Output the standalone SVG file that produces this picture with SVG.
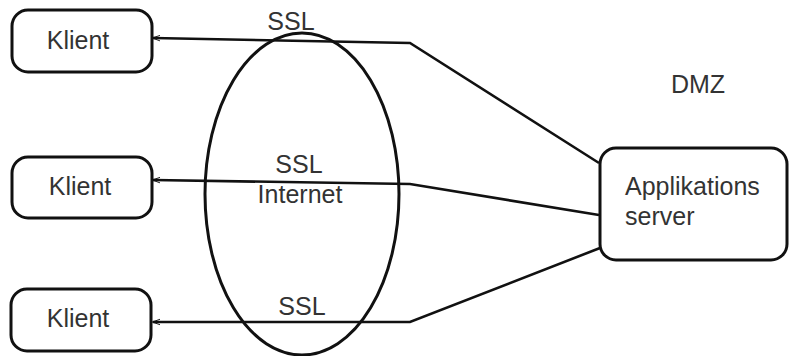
<svg xmlns="http://www.w3.org/2000/svg" width="789" height="356" viewBox="0 0 789 356">
  <style>
    .box { fill: #fff; stroke: #111; stroke-width: 3; }
    .lbl { font-family: "Liberation Sans", Arial, sans-serif; font-size: 25px; fill: #333; }
    .link { fill: none; stroke: #111; stroke-width: 2.6; stroke-linejoin: miter; }
  </style>
  <defs>
    <!-- small thin arrow tip at the client end -->
    <marker id="tip" viewBox="0 0 10 10" refX="1" refY="5" markerWidth="3" markerHeight="3" orient="auto" markerUnits="strokeWidth">
      <path d="M10,1.5 L0,5 L10,8.5" fill="none" stroke="#111" stroke-width="1.2"/>
    </marker>
  </defs>
  <rect width="789" height="356" fill="#fff"/>

  <!-- Internet zone -->
  <g id="internet">
    <ellipse cx="302" cy="194" rx="97" ry="161" fill="none" stroke="#111" stroke-width="3"/>
    <text class="lbl" x="300" y="203" text-anchor="middle">Internet</text>
  </g>

  <g id="dmz">
    <text class="lbl" x="698" y="93" text-anchor="middle">DMZ</text>
  </g>

  <!-- Connectors -->
  <g id="connectors">
    <polyline class="link" points="153,38 410,43 599,163" marker-start="url(#tip)"/>
    <polyline class="link" points="153,180 410,184 599,215" marker-start="url(#tip)"/>
    <polyline class="link" points="153,322 410,322 600,248" marker-start="url(#tip)"/>
    <text class="lbl" x="291" y="30" text-anchor="middle">SSL</text>
    <text class="lbl" x="299" y="173" text-anchor="middle">SSL</text>
    <text class="lbl" x="302" y="315" text-anchor="middle">SSL</text>
  </g>

  <g id="klient1">
    <rect class="box" x="12" y="10" width="140" height="62" rx="16"/>
    <text class="lbl" x="78" y="49" text-anchor="middle">Klient</text>
  </g>
  <g id="klient2">
    <rect class="box" x="12" y="157" width="140" height="61" rx="16"/>
    <text class="lbl" x="80" y="195" text-anchor="middle">Klient</text>
  </g>
  <g id="klient3">
    <rect class="box" x="11" y="289" width="140" height="62" rx="16"/>
    <text class="lbl" x="78" y="327" text-anchor="middle">Klient</text>
  </g>

  <g id="server">
    <rect class="box" x="600" y="148" width="187" height="112" rx="16"/>
    <text class="lbl" x="625" y="195">Applikations</text>
    <text class="lbl" x="625" y="225">server</text>
  </g>
</svg>
